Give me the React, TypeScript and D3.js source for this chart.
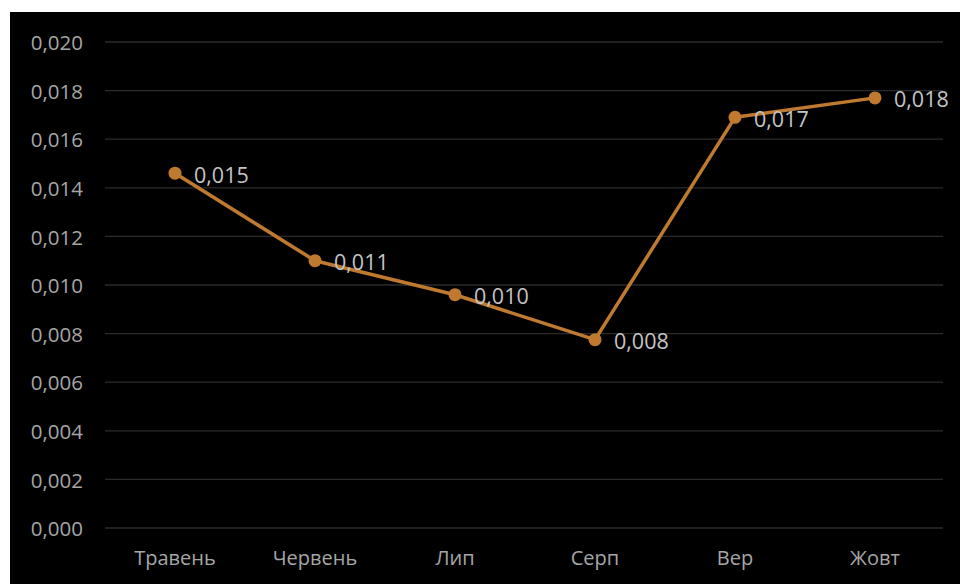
import React from "react";
import * as d3 from "d3";

const categories = ["Травень", "Червень", "Лип", "Серп", "Вер", "Жовт"];
const values = [0.0146, 0.011, 0.0096, 0.00775, 0.0169, 0.0177];
const yTicks = [0, 0.002, 0.004, 0.006, 0.008, 0.01, 0.012, 0.014, 0.016, 0.018, 0.02];

const W = 960;
const H = 584;
const FONT = "'Open Sans', 'Noto Sans', sans-serif";

export default function App() {
  const x = d3.scaleBand<string>().domain(categories).range([105, 945]);
  const y = d3.scaleLinear().domain([0, 0.02]).range([528, 42]);
  const fmt = (v: number) => d3.format(".3f")(v).replace(".", ",");
  const cx = (c: string) => (x(c) as number) + x.bandwidth() / 2;
  const line = d3
    .line<number>()
    .x((_, i) => cx(categories[i]))
    .y((d) => y(d));

  return (
    <div style={{ position: "fixed", left: 0, top: 0 }}>
      <svg width={W} height={H} style={{ display: "block" }}>
        <rect x={0} y={0} width={W} height={H} fill="#ffffff" />
        <rect x={10} y={12} width={W - 10} height={H - 12} fill="#000000" />
        {yTicks.map((t) => (
          <g key={t}>
            <line x1={105} x2={943} y1={y(t)} y2={y(t)} stroke="#2b2b2b" strokeWidth={1.3} />
            <text
              x={83}
              y={y(t) + 1}
              dy="0.35em"
              textAnchor="end"
              fill="#a6a6a6"
              fontSize={20.5}
              fontFamily={FONT}
            >
              {fmt(t)}
            </text>
          </g>
        ))}
        {categories.map((c) => (
          <text
            key={c}
            x={cx(c)}
            y={558}
            dy="0.35em"
            textAnchor="middle"
            fill="#a6a6a6"
            fontSize={20}
            fontFamily={FONT}
          >
            {c}
          </text>
        ))}
        <path d={line(values) || ""} fill="none" stroke="#c07a30" strokeWidth={3.5} strokeLinejoin="round" />
        {values.map((v, i) => (
          <circle key={i} cx={cx(categories[i])} cy={y(v)} r={6.5} fill="#c07a30" />
        ))}
        {values.map((v, i) => (
          <text
            key={"l" + i}
            x={cx(categories[i]) + 19}
            y={y(v) + 2}
            dy="0.35em"
            fill="#c4c4c4"
            fontSize={21.5}
            fontFamily={FONT}
          >
            {fmt(v)}
          </text>
        ))}
      </svg>
    </div>
  );
}
